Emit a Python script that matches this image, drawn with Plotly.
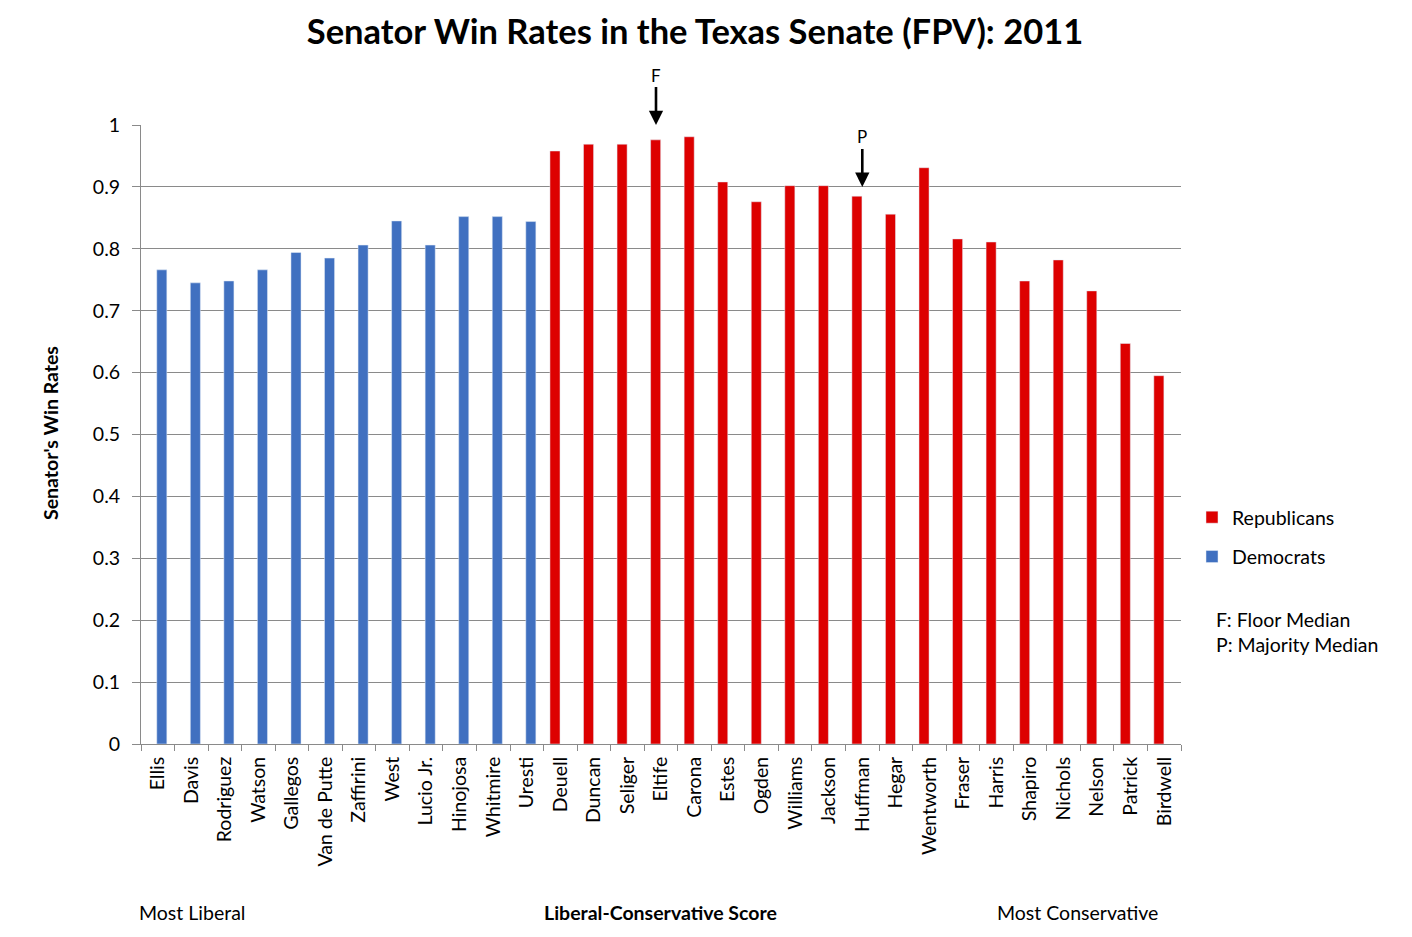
import plotly.graph_objects as go

senators = ["Ellis", "Davis", "Rodriguez", "Watson", "Gallegos", "Van de Putte", "Zaffirini",
            "West", "Lucio Jr.", "Hinojosa", "Whitmire", "Uresti",
            "Deuell", "Duncan", "Seliger", "Eltife", "Carona", "Estes", "Ogden", "Williams",
            "Jackson", "Huffman", "Hegar", "Wentworth", "Fraser", "Harris", "Shapiro",
            "Nichols", "Nelson", "Patrick", "Birdwell"]

dem_names = ["Ellis", "Davis", "Rodriguez", "Watson", "Gallegos", "Van de Putte", "Zaffirini",
             "West", "Lucio Jr.", "Hinojosa", "Whitmire", "Uresti"]
dem_rates = [0.766, 0.745, 0.748, 0.766, 0.794, 0.785, 0.806, 0.845, 0.806, 0.852, 0.852, 0.844]

rep_names = ["Deuell", "Duncan", "Seliger", "Eltife", "Carona", "Estes", "Ogden", "Williams",
             "Jackson", "Huffman", "Hegar", "Wentworth", "Fraser", "Harris", "Shapiro",
             "Nichols", "Nelson", "Patrick", "Birdwell"]
rep_rates = [0.958, 0.969, 0.969, 0.976, 0.981, 0.908, 0.876, 0.902, 0.902, 0.885, 0.856,
             0.931, 0.816, 0.811, 0.748, 0.782, 0.732, 0.647, 0.595]

y_ticks = [0, 0.1, 0.2, 0.3, 0.4, 0.5, 0.6, 0.7, 0.8, 0.9, 1]
y_tick_text = ["0", "0.1", "0.2", "0.3", "0.4", "0.5", "0.6", "0.7", "0.8", "0.9", "1"]

FONT = "Lato"
GRID = "#8a8a8a"
FS = 19.5
BW = 0.3

fig = go.Figure()
# clustered layout as in the original: Republicans left of centre, Democrats right
fig.add_trace(go.Bar(x=rep_names, y=rep_rates, name="Republicans", marker_color="#DD0000",
                     width=BW, offset=-BW - 0.01, legendgroup="r"))
fig.add_trace(go.Bar(x=dem_names, y=dem_rates, name="Democrats", marker_color="#4070C0",
                     width=BW, offset=-0.03, legendgroup="d"))

OFF = 8  # page body margin
W, H = 1412 - OFF, 937 - OFF
L, R, T, B = 141 - OFF, 231, 125 - OFF, 193
pw, ph = W - L - R, H - T - B


def px(xp):
    return (xp - OFF - L) / pw


def py(yp):
    return (H - B - (yp - OFF)) / ph


annotations = [
    dict(x="Eltife", y=1.0, xref="x", yref="y", text="F", showarrow=True, ax=-5, ay=-50,
         xshift=-5, arrowhead=2, arrowsize=1.1, arrowwidth=2.6, arrowcolor="black",
         font=dict(size=17, color="black", family=FONT)),
    dict(x="Huffman", y=0.9, xref="x", yref="y", text="P", showarrow=True, ax=0, ay=-50,
         arrowhead=2, arrowsize=1.1, arrowwidth=2.6, arrowcolor="black",
         font=dict(size=17, color="black", family=FONT)),
    dict(x=px(1214), y=py(619), xref="paper", yref="paper", text="F: Floor Median",
         showarrow=False, xanchor="left", yanchor="middle",
         font=dict(size=FS, color="black", family=FONT)),
    dict(x=px(1214), y=py(644), xref="paper", yref="paper", text="P: Majority Median",
         showarrow=False, xanchor="left", yanchor="middle",
         font=dict(size=FS, color="black", family=FONT)),
    dict(x=px(137), y=py(912), xref="paper", yref="paper", text="Most Liberal",
         showarrow=False, xanchor="left", yanchor="middle",
         font=dict(size=FS, color="black", family=FONT)),
    dict(x=px(1160), y=py(912), xref="paper", yref="paper", text="Most Conservative",
         showarrow=False, xanchor="right", yanchor="middle",
         font=dict(size=FS, color="black", family=FONT)),
    dict(x=px(660), y=py(912), xref="paper", yref="paper",
         text="<b>Liberal-Conservative Score</b>", showarrow=False,
         xanchor="center", yanchor="middle", font=dict(size=FS, color="black", family=FONT)),
    dict(x=px(50), y=py(433), xref="paper", yref="paper", text="<b>Senator's Win Rates</b>",
         showarrow=False, textangle=-90, xanchor="center", yanchor="middle",
         font=dict(size=FS, color="black", family=FONT)),
]
# Remove the extra ax on F (keep vertical arrow)
annotations[0]["ax"] = 0

fig.update_layout(
    width=W, height=H,
    margin=dict(l=L, r=R, t=T, b=B),
    paper_bgcolor="white", plot_bgcolor="white",
    barmode="overlay",
    font=dict(family=FONT, color="black"),
    title=dict(text="<b>Senator Win Rates in the Texas Senate (FPV): 2011</b>",
               x=(695 - OFF) / W, xanchor="center", y=1 - (32 - OFF) / H, yanchor="middle",
               font=dict(size=34.5, family=FONT, color="black")),
    legend=dict(x=px(1192), y=py(498), xanchor="left", yanchor="top",
                font=dict(size=FS, family=FONT, color="black"), tracegroupgap=11,
                itemwidth=30, bgcolor="rgba(0,0,0,0)"),
    annotations=annotations,
    xaxis=dict(categoryorder="array", categoryarray=senators, tickangle=-90,
               tickfont=dict(size=FS, family=FONT, color="black"),
               showline=True, linecolor=GRID, linewidth=1,
               ticks="outside", tickson="boundaries", ticklen=6, tickcolor=GRID,
               ticklabelstandoff=4,
               showgrid=False, range=[-0.5, len(senators) - 0.5]),
    yaxis=dict(range=[0, 1], tickvals=y_ticks, ticktext=y_tick_text,
               tickfont=dict(size=FS, family=FONT, color="black"),
               showgrid=True, gridcolor=GRID, gridwidth=1,
               showline=True, linecolor=GRID, linewidth=1,
               ticks="outside", ticklen=8, tickcolor=GRID, zeroline=False,
               ticklabelstandoff=8),
)

fig.write_html("out.html")
